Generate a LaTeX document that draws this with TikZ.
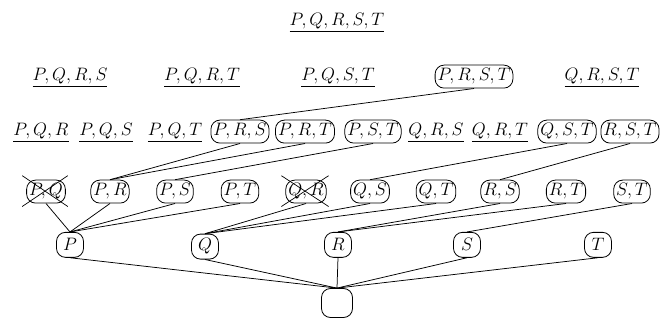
\RequirePackage{fix-cm}
\documentclass[tikz,border=0pt]{standalone}
\begin{document}
\begin{tikzpicture}[x=1pt,y=-1pt,
  every node/.style={font=\fontsize{18}{22}\selectfont, inner sep=0pt, anchor=base},
  box/.style={draw, rounded corners=9pt, line width=0.8pt, inner xsep=2.5pt, minimum height=23pt},
  ul/.style={},
  single/.style={draw, rounded corners=9pt, line width=0.8pt, minimum width=27pt, minimum height=25pt},
  empty/.style={draw, rounded corners=9pt, line width=0.8pt, minimum width=31pt, minimum height=29pt, anchor=center},
  edge/.style={line width=0.75pt},
  cross/.style={line width=0.7pt}]
\useasboundingbox (0,0) rectangle (663,320);
% row 1
\node[ul] (pqrst) at (337,26) {$\underline{P,Q,R,S,T}$};
% row 2
\node[ul] (pqrs) at (70,81) {$\underline{P,Q,R,S}$};
\node[ul] (pqrt) at (202,81) {$\underline{P,Q,R,T}$};
\node[ul] (pqst) at (338,81) {$\underline{P,Q,S,T}$};
\node[box] (prst) at (474,81) {$P,R,S,T$};
\node[ul] (qrst) at (602,81) {$\underline{Q,R,S,T}$};
% row 3
\node[ul] (pqr) at (41,136) {$\underline{P,Q,R}$};
\node[ul] (pqs) at (106,136) {$\underline{P,Q,S}$};
\node[ul] (pqt) at (175,136) {$\underline{P,Q,T}$};
\node[box] (prs) at (240,136) {$P,R,S$};
\node[box] (prt) at (305,136) {$P,R,T$};
\node[box] (pst) at (373,136) {$P,S,T$};
\node[ul] (qrs) at (436,136) {$\underline{Q,R,S}$};
\node[ul] (qrt) at (500,136) {$\underline{Q,R,T}$};
\node[box] (qst) at (567,136) {$Q,S,T$};
\node[box] (rst) at (630,136) {$R,S,T$};
% row 4
\node[box] (pq) at (46,196) {$P,Q$};
\node[box] (pr) at (110,196) {$P,R$};
\node[box] (ps) at (175,196) {$P,S$};
\node[box] (pt) at (240,196) {$P,T$};
\node[box] (qr) at (306,196) {$Q,R$};
\node[box] (qs) at (370,196) {$Q,S$};
\node[box] (qt) at (436,196) {$Q,T$};
\node[box] (rs) at (500,196) {$R,S$};
\node[box] (rt) at (566,196) {$R,T$};
\node[box] (st) at (632,196) {$S,T$};
% crosses
\draw[cross] ([shift={(-4,-4)}]pq.north west) -- ([shift={(2,3)}]pq.south east);
\draw[cross] ([shift={(-4,3)}]pq.south west) -- ([shift={(2,-4)}]pq.north east);
\draw[cross] ([shift={(-4,-4)}]qr.north west) -- ([shift={(2,3)}]qr.south east);
\draw[cross] ([shift={(-4,3)}]qr.south west) -- ([shift={(2,-4)}]qr.north east);
% row 5
\node[single] (P) at (70,251) {$P$};
\node[single] (Q) at (205,251) {$Q$};
\node[single] (R) at (338,251) {$R$};
\node[single] (S) at (467,251) {$S$};
\node[single] (T) at (598,251) {$T$};
% bottom
\node[empty] (bot) at (337,303) {};
% edges
\draw[edge] (prst.south) -- (prs.north);
\draw[edge] (prs.south) -- (pr.north);
\draw[edge] (prt.south) -- (pr.north);
\draw[edge] (pst.south) -- (ps.north);
\draw[edge] (qst.south) -- (qs.north);
\draw[edge] (rst.south) -- (rs.north);
\foreach \a in {pq,pr,ps,pt} \draw[edge] (\a.south) -- (P.north);
\foreach \a in {qr,qs,qt} \draw[edge] (\a.south) -- (Q.north);
\foreach \a in {rs,rt} \draw[edge] (\a.south) -- (R.north);
\draw[edge] (st.south) -- (S.north);
\foreach \a in {P,Q,R,S,T} \draw[edge] (\a.south) -- (bot.north);
\end{tikzpicture}
\end{document}
